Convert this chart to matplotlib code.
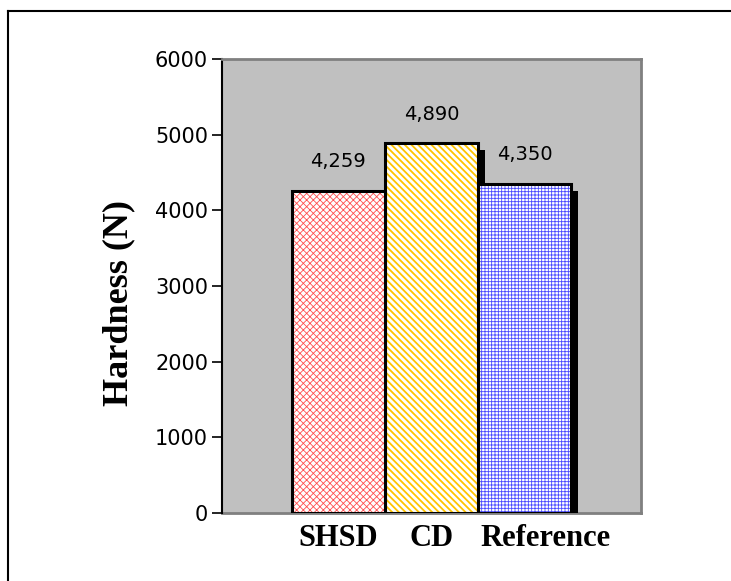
import matplotlib
matplotlib.use("Agg")
import matplotlib.pyplot as plt
import matplotlib.transforms as mtransforms
from matplotlib.lines import Line2D

categories = ["SHSD", "CD", "Reference"]
hardness = [4259, 4890, 4350]
value_labels = ["4,259", "4,890", "4,350"]
y_ticks = [0, 1000, 2000, 3000, 4000, 5000, 6000]

hatch_colors = ["#ff5050", "#ffc400", "#4a4aff"]
hatches = ["xxxxx", "\\\\\\\\\\", "+++++"]
hatch_widths = [0.6, 1.3, 0.6]

fig = plt.figure(figsize=(7.31, 5.81), dpi=100)
ax = fig.add_axes([222 / 731, 68 / 581, 419 / 731, 454 / 581])
ax.set_facecolor("#c0c0c0")

xs = list(range(len(categories)))
width = 1.0

# black drop shadow, offset right/down by a few pixels
dx = 7 / 93
dy = 7 / 454 * 6000
ax.bar([x + dx for x in xs], [v - dy for v in hardness], width=width,
       color="black", linewidth=0, zorder=1)

for x, v, hc, h, hw in zip(xs, hardness, hatch_colors, hatches, hatch_widths):
    with plt.rc_context({"hatch.linewidth": hw}):
        ax.bar(x, v, width=width, color="white", edgecolor=hc, hatch=h,
               linewidth=0, zorder=2)
ax.bar(xs, hardness, width=width, fill=False, edgecolor="black",
       linewidth=2.2, zorder=3)

for x, v, lab in zip(xs, hardness, value_labels):
    ax.annotate(lab, (x, v), xytext=(0, 14), textcoords="offset points",
                ha="center", va="bottom", fontsize=14, family="DejaVu Sans",
                zorder=4)

ax.set_xlim(-1.25, 3.25)
ax.set_ylim(0, 6000)
ax.set_yticks(y_ticks)
ax.set_yticklabels([str(t) for t in y_ticks], fontsize=15, family="DejaVu Sans")
ax.tick_params(axis="y", direction="out", length=7, width=1.2, pad=3)
ax.set_xticks(xs)
ax.set_xticklabels(categories, fontsize=22, family="Liberation Serif",
                   fontweight="bold")
ax.tick_params(axis="x", length=0, pad=8)
# Reference label sits a bit to the right of its bar
shift = mtransforms.ScaledTranslation(21 / 100, 0, fig.dpi_scale_trans)
lab = ax.get_xticklabels()[2]
lab.set_transform(lab.get_transform() + shift)

ax.set_ylabel("Hardness (N)", fontsize=26, family="Liberation Serif",
              fontweight="bold")
ax.yaxis.set_label_coords(-0.208, 0.462)

for side in ["top", "right", "bottom"]:
    ax.spines[side].set_color("#808080")
    ax.spines[side].set_linewidth(2)
ax.spines["left"].set_color("black")
ax.spines["left"].set_linewidth(1.5)
ax.spines["bottom"].set_zorder(0)

# outer chart frame (only the left and top edges fall inside the image)
fx, fy = 8 / 731, 1 - 11 / 581
fig.add_artist(Line2D([fx, fx], [0, fy], transform=fig.transFigure,
                      color="black", linewidth=1.5))
fig.add_artist(Line2D([fx, 1], [fy, fy], transform=fig.transFigure,
                      color="black", linewidth=1.5))

fig.savefig("out.png", dpi=100)
